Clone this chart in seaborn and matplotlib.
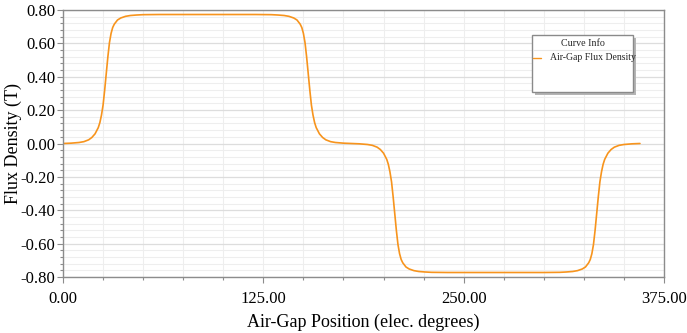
import matplotlib
matplotlib.use("Agg")
import matplotlib.pyplot as plt
from matplotlib.patches import Rectangle
from matplotlib.lines import Line2D
from matplotlib.ticker import MultipleLocator, FormatStrFormatter
import numpy as np
import pandas as pd
import seaborn as sns

# Air-gap flux density over one electrical period
position_deg = [
    0, 5, 10, 13, 16, 18, 20, 22, 23, 24, 25, 26, 27, 28, 29, 30, 31, 32, 34, 36,
    39, 42, 46, 50, 60, 90, 120, 130, 134, 138, 141, 144, 146, 148, 149, 150, 151,
    152, 153, 154, 155, 156, 157, 158, 160, 162, 164, 167, 170, 175, 180,
    185, 190, 193, 196, 198, 200, 202, 203, 204, 205, 206, 207, 208, 209, 210, 211,
    212, 214, 216, 219, 222, 226, 230, 240, 270, 300, 310, 314, 318, 321, 324, 326,
    328, 329, 330, 331, 332, 333, 334, 335, 336, 337, 338, 340, 342, 344, 347, 350,
    355, 360,
]
flux_density_t = [
    0.000, 0.002, 0.006, 0.011, 0.022, 0.036, 0.058, 0.095, 0.125, 0.170, 0.230,
    0.320, 0.420, 0.520, 0.605, 0.660, 0.695, 0.715, 0.740, 0.752, 0.762, 0.767,
    0.770, 0.772, 0.773, 0.773, 0.773, 0.772, 0.770, 0.767, 0.762, 0.752, 0.740,
    0.715, 0.695, 0.660, 0.605, 0.520, 0.420, 0.320, 0.230, 0.170, 0.125, 0.095,
    0.058, 0.036, 0.022, 0.011, 0.006, 0.002, 0.000,
    -0.002, -0.006, -0.011, -0.022, -0.036, -0.058, -0.095, -0.125, -0.170, -0.230,
    -0.320, -0.420, -0.520, -0.605, -0.660, -0.695, -0.715, -0.740, -0.752, -0.762,
    -0.767, -0.770, -0.772, -0.773, -0.773, -0.773, -0.772, -0.770, -0.767, -0.762,
    -0.752, -0.740, -0.715, -0.695, -0.660, -0.605, -0.520, -0.420, -0.320, -0.230,
    -0.170, -0.125, -0.095, -0.058, -0.036, -0.022, -0.011, -0.006, -0.002, 0.000,
]
x_ticks = [0, 125, 250, 375]
y_ticks = [-0.8, -0.6, -0.4, -0.2, 0.0, 0.2, 0.4, 0.6, 0.8]
series_name = "Air-Gap Flux Density"
legend_title = "Curve Info"

sns.set_theme(style="white")
plt.rcParams["font.family"] = ["Liberation Serif", "DejaVu Serif"]

W, H, DPI = 687, 333, 100
fig = plt.figure(figsize=(W / DPI, H / DPI), dpi=DPI)
left, right, top, bottom = 63, 664, 10, 277
ax = fig.add_axes([left / W, 1 - bottom / H, (right - left) / W, (bottom - top) / H])

df = pd.DataFrame({"pos": position_deg, "B": flux_density_t})
line_color = "#f7941d"
sns.lineplot(data=df, x="pos", y="B", ax=ax, color=line_color, linewidth=1.2,
             sort=False, estimator=None)

ax.set_xlim(0, 375)
ax.set_ylim(-0.8, 0.8)
ax.xaxis.set_major_locator(plt.FixedLocator(x_ticks))
ax.xaxis.set_minor_locator(MultipleLocator(25))
ax.yaxis.set_major_locator(plt.FixedLocator(y_ticks))
ax.yaxis.set_minor_locator(MultipleLocator(0.04))
ax.xaxis.set_major_formatter(FormatStrFormatter("%.2f"))
ax.yaxis.set_major_formatter(FormatStrFormatter("%.2f"))

ax.grid(which="minor", axis="both", color="#eeeeee", linewidth=0.8)
ax.grid(which="major", axis="y", color="#dddddd", linewidth=0.9)
ax.grid(which="major", axis="x", color="#eeeeee", linewidth=0.8)
ax.set_axisbelow(True)

spine_col = "#8c8c8c"
for s in ax.spines.values():
    s.set_color(spine_col)
    s.set_linewidth(1.0)
    s.set_visible(True)

ax.tick_params(axis="both", which="major", direction="out", length=4, width=0.8,
               color=spine_col, labelsize=12, labelcolor="black")
ax.tick_params(axis="both", which="minor", direction="out", length=2.5, width=0.8,
               color=spine_col)
ax.tick_params(axis="x", which="major", pad=6, bottom=True)
ax.tick_params(axis="x", which="minor", bottom=True)
ax.tick_params(axis="y", which="major", pad=1.5, left=True)
ax.tick_params(axis="y", which="minor", left=True)

ax.set_xlabel("Air-Gap Position (elec. degrees)", fontsize=13, labelpad=5, color="black")
ax.set_ylabel("Flux Density (T)", fontsize=13, color="black")
ax.yaxis.set_label_coords(-0.068, 0.5)

# Curve info box drawn in figure pixel coordinates
def px_to_fig(x, y):
    return x / W, 1 - y / H

bx0, by0, bx1, by1 = 532, 35, 633, 92
sx, sy = px_to_fig(bx0 + 3, by1 + 3)
fig.patches.append(Rectangle((sx, sy), (bx1 - bx0) / W, (by1 - by0) / H,
                             transform=fig.transFigure, facecolor="#b5b5b5",
                             edgecolor="none", zorder=5))
fx, fy = px_to_fig(bx0, by1)
fig.patches.append(Rectangle((fx, fy), (bx1 - bx0) / W, (by1 - by0) / H,
                             transform=fig.transFigure, facecolor="white",
                             edgecolor="#8a8a8a", linewidth=1.0, zorder=6))
x_a, y_a = px_to_fig(bx0 + 1, 50)
x_b, _ = px_to_fig(bx1 - 1, 50)
fig.add_artist(Line2D([x_a, x_b], [y_a, y_a], transform=fig.transFigure,
                      color="#e6e6e6", linewidth=0.8, zorder=7))
tx, ty = px_to_fig(583, 44)
fig.text(tx, ty, legend_title, ha="center", va="center", fontsize=7.2, zorder=8)
l0, ly = px_to_fig(533, 58)
l1, _ = px_to_fig(541, 58)
fig.add_artist(Line2D([l0, l1], [ly, ly], transform=fig.transFigure,
                      color=line_color, linewidth=1.0, zorder=8))
ex, ey = px_to_fig(550, 58)
fig.text(ex, ey, series_name, ha="left", va="center", fontsize=7.0, zorder=8)

fig.savefig("out.png", dpi=DPI)
